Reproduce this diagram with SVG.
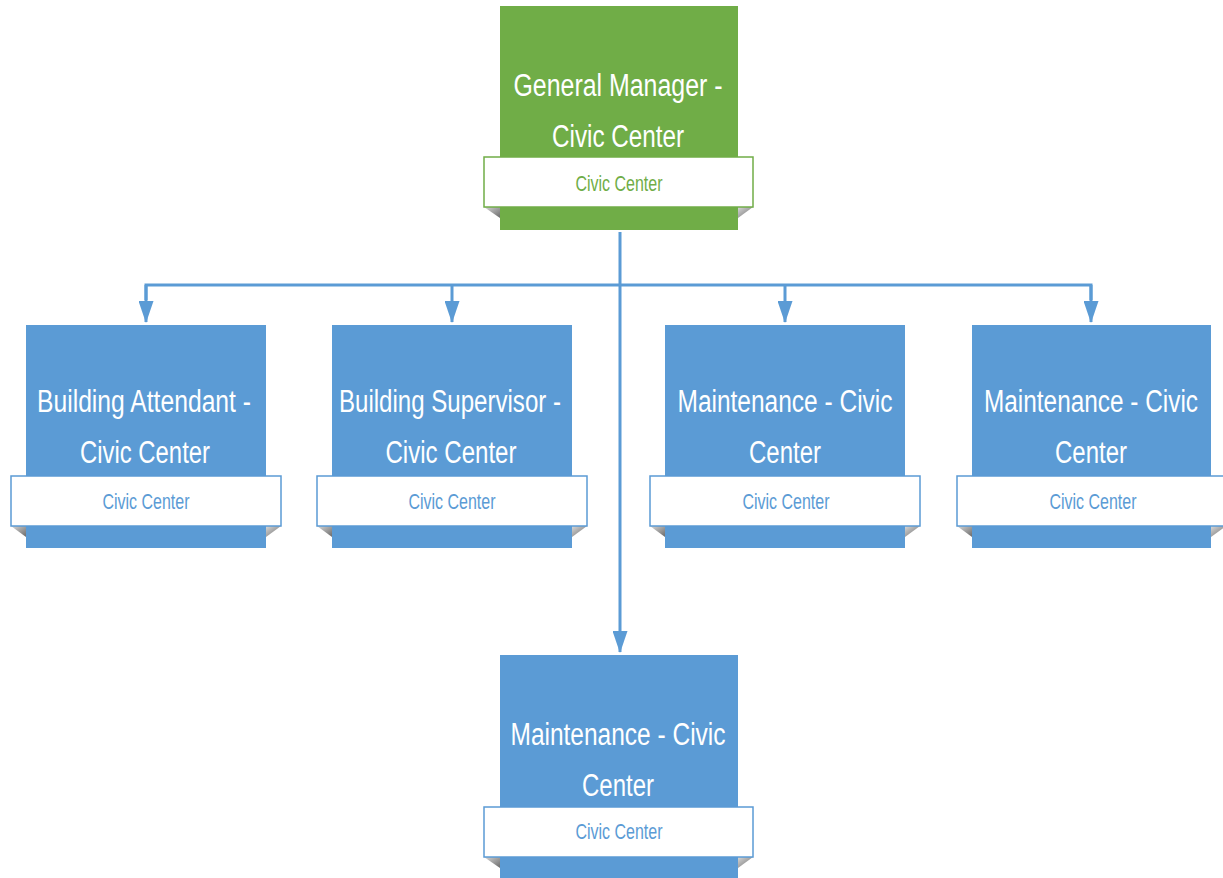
<svg xmlns="http://www.w3.org/2000/svg" width="1223" height="878" viewBox="0 0 1223 878">
<style>
.bg{fill:#ffffff}
.box-g{fill:#70AD47}
.box-b{fill:#5B9BD5}
.rib-g{fill:#ffffff;stroke:#70AD47;stroke-width:1.5}
.rib-b{fill:#ffffff;stroke:#5B9BD5;stroke-width:1.5}
.fold{fill:url(#foldGrad)}
.t{font-family:"Liberation Sans",Arial,sans-serif;font-size:31px;fill:#ffffff;text-anchor:middle}
.s{font-family:"Liberation Sans",Arial,sans-serif;font-size:22px;text-anchor:middle}
.sg{fill:#70AD47}
.sb{fill:#5B9BD5}
.conn{fill:none;stroke:#5B9BD5;stroke-width:3}
</style>
<defs>
<linearGradient id="foldGrad" x1="0" y1="0" x2="1" y2="1">
<stop offset="0" stop-color="#d8d8d8"/>
<stop offset="1" stop-color="#6a6a6a"/>
</linearGradient>
<marker id="ah" viewBox="0 0 22 15" refX="21" refY="7.5" markerWidth="22" markerHeight="15" markerUnits="userSpaceOnUse" orient="auto">
<path d="M0,0 L22,7.5 L0,15 Z" fill="#5B9BD5"/>
</marker>
</defs>
<rect class="bg" x="0" y="0" width="1223" height="878"/>

<g id="connectors">
<path class="conn" d="M620,232 V652" marker-end="url(#ah)"/>
<path class="conn" d="M146,300 V285 H1091 V300"/>
<path class="conn" d="M146,285 V322" marker-end="url(#ah)"/>
<path class="conn" d="M452,285 V322" marker-end="url(#ah)"/>
<path class="conn" d="M785,285 V322" marker-end="url(#ah)"/>
<path class="conn" d="M1091,285 V322" marker-end="url(#ah)"/>
</g>

<g id="node-gm">
<rect class="box-g" x="500" y="6" width="238" height="224"/>
<path class="fold" d="M484,207 L500,207 L500,218 Z"/>
<path class="fold" d="M753,207 L738,207 L738,218 Z"/>
<rect class="rib-g" x="484" y="157" width="269" height="50"/>
<text class="t" x="618" y="96" textLength="209" lengthAdjust="spacingAndGlyphs">General Manager -</text>
<text class="t" x="618" y="147" textLength="132" lengthAdjust="spacingAndGlyphs">Civic Center</text>
<text class="s sg" x="619" y="191" textLength="87" lengthAdjust="spacingAndGlyphs">Civic Center</text>
</g>

<g id="node-ba">
<rect class="box-b" x="26" y="325" width="240" height="223"/>
<path class="fold" d="M11,526 L26,526 L26,537 Z"/>
<path class="fold" d="M281,526 L266,526 L266,537 Z"/>
<rect class="rib-b" x="11" y="476" width="270" height="50"/>
<text class="t" x="144" y="412" textLength="214" lengthAdjust="spacingAndGlyphs">Building Attendant -</text>
<text class="t" x="145" y="463" textLength="130" lengthAdjust="spacingAndGlyphs">Civic Center</text>
<text class="s sb" x="146" y="509" textLength="87" lengthAdjust="spacingAndGlyphs">Civic Center</text>
</g>

<g id="node-bs">
<rect class="box-b" x="332" y="325" width="240" height="223"/>
<path class="fold" d="M317,526 L332,526 L332,537 Z"/>
<path class="fold" d="M587,526 L572,526 L572,537 Z"/>
<rect class="rib-b" x="317" y="476" width="270" height="50"/>
<text class="t" x="450" y="412" textLength="222" lengthAdjust="spacingAndGlyphs">Building Supervisor -</text>
<text class="t" x="451" y="463" textLength="131" lengthAdjust="spacingAndGlyphs">Civic Center</text>
<text class="s sb" x="452" y="509" textLength="87" lengthAdjust="spacingAndGlyphs">Civic Center</text>
</g>

<g id="node-m1">
<rect class="box-b" x="665" y="325" width="240" height="223"/>
<path class="fold" d="M650,526 L665,526 L665,537 Z"/>
<path class="fold" d="M920,526 L905,526 L905,537 Z"/>
<rect class="rib-b" x="650" y="476" width="270" height="50"/>
<text class="t" x="785" y="412" textLength="215" lengthAdjust="spacingAndGlyphs">Maintenance - Civic</text>
<text class="t" x="785" y="463" textLength="72" lengthAdjust="spacingAndGlyphs">Center</text>
<text class="s sb" x="786" y="509" textLength="87" lengthAdjust="spacingAndGlyphs">Civic Center</text>
</g>

<g id="node-m2">
<rect class="box-b" x="972" y="325" width="239" height="223"/>
<path class="fold" d="M957,526 L972,526 L972,537 Z"/>
<path class="fold" d="M1226,526 L1211,526 L1211,537 Z"/>
<rect class="rib-b" x="957" y="476" width="269" height="50"/>
<text class="t" x="1091" y="412" textLength="214" lengthAdjust="spacingAndGlyphs">Maintenance - Civic</text>
<text class="t" x="1091" y="463" textLength="72" lengthAdjust="spacingAndGlyphs">Center</text>
<text class="s sb" x="1093" y="509" textLength="87" lengthAdjust="spacingAndGlyphs">Civic Center</text>
</g>

<g id="node-m3">
<rect class="box-b" x="500" y="655" width="238" height="230"/>
<path class="fold" d="M484,857 L500,857 L500,868 Z"/>
<path class="fold" d="M753,857 L738,857 L738,868 Z"/>
<rect class="rib-b" x="484" y="807" width="269" height="50"/>
<text class="t" x="618" y="745" textLength="215" lengthAdjust="spacingAndGlyphs">Maintenance - Civic</text>
<text class="t" x="618" y="796" textLength="72" lengthAdjust="spacingAndGlyphs">Center</text>
<text class="s sb" x="619" y="839" textLength="87" lengthAdjust="spacingAndGlyphs">Civic Center</text>
</g>
</svg>
